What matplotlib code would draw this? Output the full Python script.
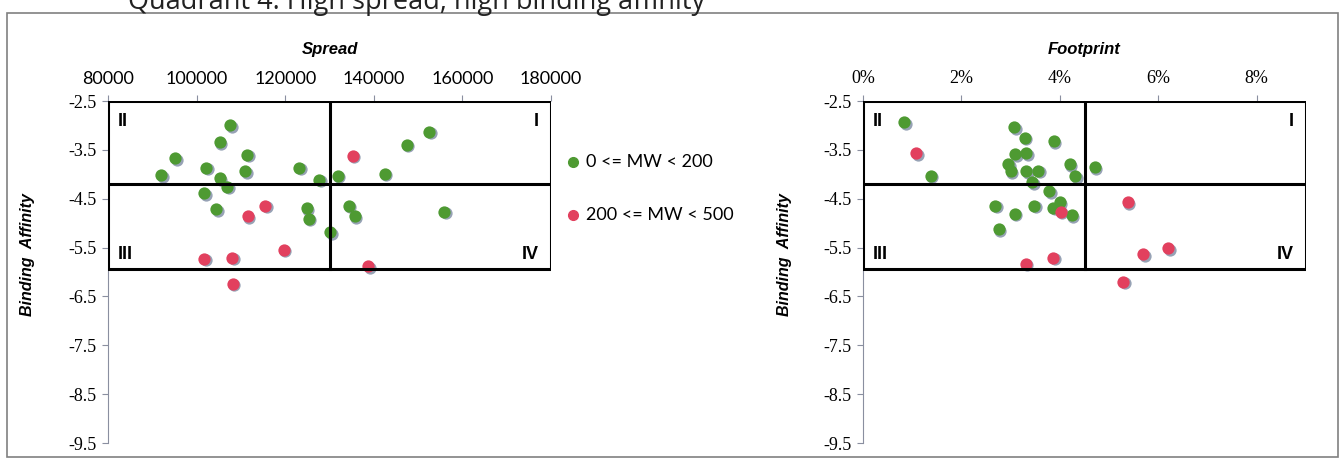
import matplotlib.pyplot as plt
import matplotlib.transforms as mtransforms
from matplotlib.patches import Rectangle
from matplotlib.ticker import FuncFormatter

# Spread vs binding affinity
spread_low = [107600, 105200, 95200, 111400, 102200, 111000, 92000, 105200,
              106900, 123200, 127700, 101700, 104400, 124900, 125300, 130200,
              131900, 134400, 135700, 142500, 147400, 152500, 155900]
affinity_low = [-3.00, -3.34, -3.67, -3.60, -3.87, -3.94, -4.02, -4.08,
                -4.25, -3.87, -4.11, -4.39, -4.72, -4.70, -4.91, -5.19,
                -4.03, -4.64, -4.86, -3.99, -3.40, -3.13, -4.77]
spread_high = [135300, 115500, 111600, 119700, 101700, 108000, 108200, 138700]
affinity_high = [-3.62, -4.64, -4.86, -5.54, -5.73, -5.71, -6.24, -5.88]

# Footprint vs binding affinity
foot_low = [0.0084, 0.0138, 0.0307, 0.0329, 0.0388, 0.0309, 0.0332, 0.0295,
            0.0300, 0.0332, 0.0356, 0.0344, 0.0420, 0.0431, 0.0471, 0.0378,
            0.0400, 0.0387, 0.0424, 0.0348, 0.0269, 0.0308, 0.0276]
foot_aff_low = [-2.94, -4.03, -3.04, -3.25, -3.32, -3.59, -3.57, -3.79,
                -3.94, -3.94, -3.93, -4.16, -3.79, -4.04, -3.86, -4.35,
                -4.57, -4.69, -4.84, -4.64, -4.64, -4.81, -5.13]
foot_high = [0.0108, 0.0402, 0.0331, 0.0387, 0.0538, 0.0569, 0.0620, 0.0529]
foot_aff_high = [-3.57, -4.77, -5.83, -5.71, -4.57, -5.64, -5.51, -6.20]

# quadrant box (top, split, bottom of affinity)
box_top = -2.5
box_split = -4.2
box_bottom = -5.93
spread_split = 130000
foot_split = 0.045

green = '#4e9a32'
red = '#e2405e'
shadow = '#7d8ba3'
serif = ['Liberation Serif', 'DejaVu Serif']

fig = plt.figure(figsize=(13.43, 4.61), dpi=100)
W, H = 1343, 461

# outer frame
fig.patches.append(Rectangle((7 / W, 4 / H), 1331 / W, 1 - 17 / H,
                             transform=fig.transFigure, fill=False,
                             edgecolor='#808080', lw=1.2))
fig.text(128 / W, 1 - 9 / H, 'Quadrant 4: High spread, high binding affinity',
         fontsize=19.5, family='Open Sans', va='baseline', ha='left',
         color='#222222')


def setup_axes(ax, xlim, xticks, xfmt, xfont, xtitle, ylab_x):
  ax.set_xlim(*xlim)
  ax.set_ylim(-9.5, -2.5)
  ax.set_yticks([-2.5, -3.5, -4.5, -5.5, -6.5, -7.5, -8.5, -9.5])
  ax.yaxis.set_major_formatter(FuncFormatter(lambda v, p: f'{v:.1f}'))
  ax.xaxis.tick_top()
  ax.set_xticks(xticks)
  ax.xaxis.set_major_formatter(FuncFormatter(xfmt))
  for s in ['right', 'bottom', 'top']:
    ax.spines[s].set_visible(False)
  ax.spines['left'].set_color('#8a8fa0')
  ax.spines['left'].set_linewidth(0.8)
  ax.tick_params(axis='y', length=4, color='#8a8fa0', pad=4,
                 labelsize=13, labelfontfamily=serif)
  ax.tick_params(axis='x', length=4, color='#8a8fa0', pad=6,
                 labelsize=13, labelfontfamily=xfont)
  ax.set_title(xtitle, fontsize=12, fontweight='bold', style='italic',
               family='Liberation Sans', pad=34)
  ax.set_ylabel('Binding  Affinity', fontsize=11.5, fontweight='bold',
                style='italic', family='Liberation Sans')
  ax.yaxis.set_label_coords(ylab_x, 0.55)


def draw_box(ax, x0, x1, xs):
  kw = dict(color='black', lw=2.2, zorder=4, solid_capstyle='projecting')
  ax.plot([x0, x1, x1, x0, x0], [box_top, box_top, box_bottom, box_bottom, box_top], **kw)
  ax.plot([x0, x1], [box_split, box_split], **kw)
  ax.plot([xs, xs], [box_top, box_bottom], **kw)
  qkw = dict(fontsize=13, fontweight='heavy', family='Liberation Sans', zorder=5,
             va='center')
  ax.text(0.023, 0.939, 'II', transform=ax.transAxes, ha='left', **qkw)
  ax.text(0.973, 0.939, 'I', transform=ax.transAxes, ha='right', **qkw)
  ax.text(0.023, 0.55, 'III', transform=ax.transAxes, ha='left', **qkw)
  ax.text(0.973, 0.55, 'IV', transform=ax.transAxes, ha='right', **qkw)


def draw_points(ax, x, y, color):
  off = mtransforms.offset_copy(ax.transData, fig=fig, x=1.5, y=-1.5, units='dots')
  ax.scatter(x, y, s=78, color=shadow, alpha=0.8, lw=0, transform=off, zorder=2)
  ax.scatter(x, y, s=78, color=color, lw=0, zorder=3)


ax1 = fig.add_axes([108 / W, 1 - 443 / H, 443 / W, 342 / H])
setup_axes(ax1, (80000, 180000), [80000, 100000, 120000, 140000, 160000, 180000],
           lambda v, p: f'{v:.0f}', ['Lato', 'DejaVu Sans'], 'Spread', -0.165)
draw_box(ax1, 80000, 180000, spread_split)
draw_points(ax1, spread_low, affinity_low, green)
draw_points(ax1, spread_high, affinity_high, red)

ax2 = fig.add_axes([863 / W, 1 - 443 / H, 443 / W, 342 / H])
setup_axes(ax2, (0, 0.09), [0, 0.02, 0.04, 0.06, 0.08],
           lambda v, p: f'{v * 100:.0f}%', serif, 'Footprint', -0.16)
draw_box(ax2, 0, 0.09, foot_split)
draw_points(ax2, foot_low, foot_aff_low, green)
draw_points(ax2, foot_high, foot_aff_high, red)

# legend
lx = 573 / W
for ly, c, txt in [(162, green, '0 <= MW < 200'), (215, red, '200 <= MW < 500')]:
  fig.lines.append(plt.Line2D([lx], [1 - ly / H], marker='o', markersize=7,
                              color=c, lw=0, transform=fig.transFigure))
  fig.text(586 / W, 1 - ly / H, txt, fontsize=13, family='Lato',
           va='center', ha='left')

fig.savefig('out.png', dpi=100)
